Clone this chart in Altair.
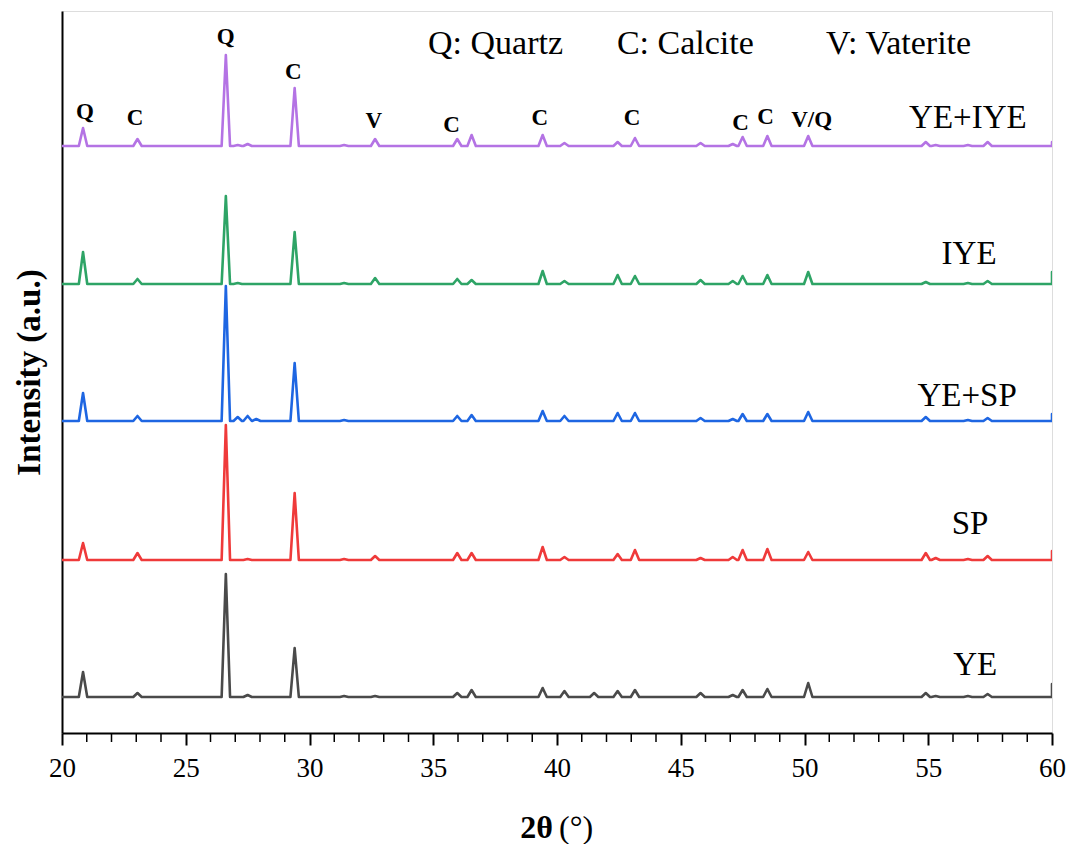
import altair as alt
import pandas as pd

# ---- data ----
peak_2theta = [20.85, 23.05, 26.62, 27.1, 27.5, 27.85, 29.4, 31.4, 32.65, 35.97, 36.55,
               39.42, 40.3, 41.5, 42.45, 43.15, 45.8, 47.1, 47.5, 48.5, 50.15, 54.9,
               55.3, 56.6, 57.4, 60.0]

series_names = ["YE", "SP", "YE+SP", "IYE", "YE+IYE"]
series_baseline = [36, 173, 312, 449, 587]

h_YE     = [25, 4, 123, 0, 2, 0, 49, 1, 1, 4, 7, 9, 6, 4, 6, 7, 4, 2, 7, 8, 14, 4, 1, 1, 3, 13]
h_SP     = [17, 7, 135, 0, 1, 0, 67, 1, 4, 7, 7, 13, 3, 0, 6, 10, 2, 3, 10, 11, 8, 7, 2, 1, 4, 9]
h_YE_SP  = [28, 5, 135, 4, 5, 2, 58, 1, 0, 5, 6, 10, 5, 0, 8, 8, 3, 2, 7, 7, 9, 4, 0, 1, 3, 7]
h_IYE    = [32, 5, 88, 1, 0, 0, 52, 1, 6, 5, 4, 13, 3, 0, 9, 8, 4, 3, 8, 9, 12, 2, 0, 1, 3, 12]
h_YE_IYE = [18, 7, 91, 1, 2, 0, 58, 1, 7, 7, 11, 11, 3, 0, 4, 8, 3, 2, 9, 10, 10, 4, 1, 1, 4, 4]
series_heights = [h_YE, h_SP, h_YE_SP, h_IYE, h_YE_IYE]

series_colors = ["#4a4a4a", "#ef3a3a", "#1e66e2", "#2ea466", "#b473e4"]
peak_half_width = 0.17

phase_labels = ["Q", "C", "Q", "C", "V", "C", "C", "C", "C", "C", "V/Q"]
phase_label_x = [20.93, 22.95, 26.61, 29.35, 32.6, 35.74, 39.31, 43.03, 47.42, 48.43, 50.29]
phase_label_y = [621, 615, 696, 661, 612, 608, 615, 615, 610, 616, 613]

name_label_x = [56.9, 56.69, 56.57, 56.65, 56.6]
name_label_y = [68, 209, 337, 479, 615]

legend_texts = ["Q: Quartz", "C: Calcite", "V: Vaterite"]
legend_x = [34.79, 42.42, 50.87]
legend_y = [689, 689, 689]

minor_ticks = [v for v in range(21, 60) if v % 5 != 0]
major_ticks = list(range(20, 61, 5))

# ---- build tables ----
rows = []
for name, base, hs in zip(series_names, series_baseline, series_heights):
    pts = [(20.0, base), (60.0, base)]
    for p, h in zip(peak_2theta, hs):
        if h > 0:
            pts += [(p - peak_half_width, base), (p, base + h), (p + peak_half_width, base)]
    pts.sort()
    for i, (x, y) in enumerate(pts):
        rows.append({"series": name, "two_theta": x, "intensity": y, "order": i})
lines_df = pd.DataFrame(rows)

phase_df = pd.DataFrame({"x": phase_label_x, "y": phase_label_y, "t": phase_labels})
names_df = pd.DataFrame({"x": name_label_x, "y": name_label_y, "t": series_names})
legend_df = pd.DataFrame({"x": legend_x, "y": legend_y, "t": legend_texts})
minor_df = pd.DataFrame({"v": minor_ticks})

FONT = "'Liberation Serif', 'Times New Roman', serif"
xscale = alt.Scale(domain=[20, 60], nice=False, zero=False)
yscale = alt.Scale(domain=[0, 722], nice=False, zero=False)

lines = alt.Chart(lines_df).mark_line(strokeWidth=2.6, clip=True, strokeJoin="round").encode(
    x=alt.X("two_theta:Q", scale=xscale,
            axis=alt.Axis(values=major_ticks, tickSize=12, tickWidth=2, tickColor="black",
                          domainWidth=2, domainColor="black", labelFont=FONT,
                          labelFontSize=27, labelColor="black", labelPadding=10,
                          grid=False, title=None, labelFlush=False, format="d")),
    y=alt.Y("intensity:Q", scale=yscale,
            axis=alt.Axis(labels=False, ticks=False, grid=False, domainWidth=2,
                          domainColor="black", title="Intensity (a.u.)",
                          titleFont=FONT, titleFontSize=33, titleFontWeight="bold",
                          titleColor="black", titlePadding=16)),
    color=alt.Color("series:N", scale=alt.Scale(domain=series_names, range=series_colors),
                    legend=None),
    detail="series:N",
    order="order:Q",
)

minor = alt.Chart(minor_df).mark_rule(color="black", strokeWidth=1.5).encode(
    x=alt.X("v:Q", scale=xscale), y=alt.value(722), y2=alt.value(731)
)

phase = alt.Chart(phase_df).mark_text(font=FONT, fontSize=23, fontWeight="bold",
                                      color="black", baseline="middle", align="center").encode(
    x=alt.X("x:Q", scale=xscale), y=alt.Y("y:Q", scale=yscale), text="t:N"
)

names = alt.Chart(names_df).mark_text(font=FONT, fontSize=33, color="black",
                                      baseline="middle", align="center").encode(
    x=alt.X("x:Q", scale=xscale), y=alt.Y("y:Q", scale=yscale), text="t:N"
)

legend = alt.Chart(legend_df).mark_text(font=FONT, fontSize=34, color="black",
                                        baseline="middle", align="left").encode(
    x=alt.X("x:Q", scale=xscale), y=alt.Y("y:Q", scale=yscale), text="t:N"
)

xt1 = alt.Chart(pd.DataFrame({"t": ["2θ"]})).mark_text(
    font=FONT, fontSize=32, fontWeight="bold", color="black", align="right",
    baseline="middle").encode(x=alt.value(491), y=alt.value(817), text="t:N")
xt2 = alt.Chart(pd.DataFrame({"t": ["(°)"]})).mark_text(
    font=FONT, fontSize=32, color="black", align="left",
    baseline="middle").encode(x=alt.value(497), y=alt.value(817), text="t:N")

chart = alt.layer(lines, minor, phase, names, legend, xt1, xt2).properties(
    width=990, height=722,
    autosize=alt.AutoSizeParams(type="none"),
    padding={"left": 62, "top": 11, "right": 16, "bottom": 111},
).configure_view(stroke="black", strokeWidth=2).configure(background="white")

chart.save("out.html", embed_options={"renderer": "svg", "actions": False})
